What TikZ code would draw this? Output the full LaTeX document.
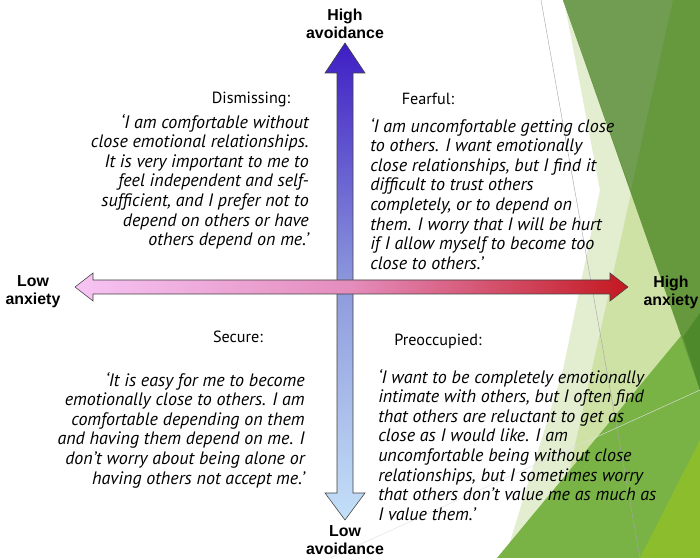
\documentclass[tikz,border=0pt]{standalone}
\usepackage{fontspec}
\newfontfamily\quotefont{PT Sans}
\newfontfamily\axisfont{Liberation Sans}

\definecolor{pale}{RGB}{227,237,207}
\definecolor{lightgreen}{RGB}{207,226,166}
\definecolor{midgreen}{RGB}{121,179,70}
\definecolor{darkgreen}{RGB}{102,152,62}
\definecolor{softgreen}{RGB}{112,157,82}
\definecolor{deepgreen}{RGB}{78,138,44}
\definecolor{limegreen}{RGB}{140,189,44}
\definecolor{vtop}{RGB}{62,30,196}
\definecolor{vmid}{RGB}{140,152,220}
\definecolor{vbot}{RGB}{196,224,248}
\definecolor{hleft}{RGB}{246,196,244}
\definecolor{hmid}{RGB}{228,140,188}
\definecolor{hright}{RGB}{196,24,32}

\tikzstyle{axislabel} = [align=center,inner sep=0pt,font=\axisfont\bfseries\fontsize{11.3}{12.8}\selectfont]
\tikzstyle{title} = [inner sep=0pt,font=\quotefont\fontsize{11.5}{14}\selectfont]
\tikzstyle{quoteR} = [align=right,inner sep=0pt,anchor=north east,font=\quotefont\itshape\fontsize{12.8}{13.9}\selectfont]
\tikzstyle{quoteL} = [align=left,inner sep=0pt,anchor=north west,font=\quotefont\itshape\fontsize{12.8}{13.9}\selectfont]
\tikzstyle{axisarrow} = [draw=black!75,line width=0.4pt]

\begin{document}
\begin{tikzpicture}[x=0.025cm,y=-0.025cm]

	\useasboundingbox (0,0) rectangle (700,558);
	\fill[white] (0,0) rectangle (700,558);

	\fill[pale] (564,0) -- (600,190) -- (563,370) -- (505,558) -- (700,558) -- (700,0) -- cycle;
	\fill[lightgreen] (645,130) -- (700,300) -- (700,558) -- (550,558) -- cycle;
	\fill[midgreen] (497,558) -- (700,313) -- (700,558) -- cycle;
	\fill[darkgreen] (563,0) -- (700,0) -- (700,390) -- cycle;
	\fill[softgreen] (563,0) -- (673,0) -- (631,190) -- cycle;
	\fill[deepgreen] (683,337) -- (700,313) -- (700,390) -- cycle;
	\fill[limegreen] (640,558) -- (700,440) -- (700,558) -- cycle;
	\draw[black!35,line width=0.3pt] (541,0) -- (640,558);
	\draw[black!12,line width=0.3pt] (330,558) -- (700,390);

	\path[axisarrow,top color=vtop,bottom color=vbot,middle color=vmid]
		(337,73) -- (325,73) -- (345,43) -- (365,73) -- (353,73) -- (353,493)
		-- (365,493) -- (345,520) -- (325,493) -- (337,493) -- cycle;
	\path[axisarrow,left color=hleft,right color=hright,middle color=hmid]
		(93,280) -- (93,273) -- (75,287) -- (93,301) -- (93,294) -- (610,294)
		-- (610,301) -- (628,287) -- (610,273) -- (610,280) -- cycle;

	\node (highavoid) [axislabel] at (345,24) {High\\avoidance};
	\node (lowavoid) [axislabel] at (345,540) {Low\\avoidance};
	\node (lowanx) [axislabel] at (33,292) {Low\\anxiety};
	\node (highanx) [axislabel] at (671,292) {High\\anxiety};

	\node (dismissing) [title] at (251,99) {Dismissing:};
	\node (fearful) [title] at (428,99) {Fearful:};
	\node (secure) [title] at (238,337) {Secure:};
	\node (preoccupied) [title] at (438,341) {Preoccupied:};

	\node (dismissingq) [quoteR] at (309,114) {‘I am comfortable without\\close emotional relationships.\\It is very important to me to\\feel independent and self-\\sufficient, and I prefer not to\\depend on others or have\\others depend on me.’};
	\node (fearfulq) [quoteL] at (370,118) {‘I am uncomfortable getting close\\to others. I want emotionally\\close relationships, but I find it\\difficult to trust others\\completely, or to depend on\\them. I worry that I will be hurt\\if I allow myself to become too\\close to others.’};
	\node (secureq) [quoteR] at (305,372) {‘It is easy for me to become\\emotionally close to others. I am\\comfortable depending on them\\and having them depend on me. I\\don’t worry about being alone or\\having others not accept me.’};
	\node (preoccupiedq) [quoteL] at (378,369) {‘I want to be completely emotionally\\intimate with others, but I often find\\that others are reluctant to get as\\close as I would like. I am\\uncomfortable being without close\\relationships, but I sometimes worry\\that others don’t value me as much as\\I value them.’};

\end{tikzpicture}
\end{document}
